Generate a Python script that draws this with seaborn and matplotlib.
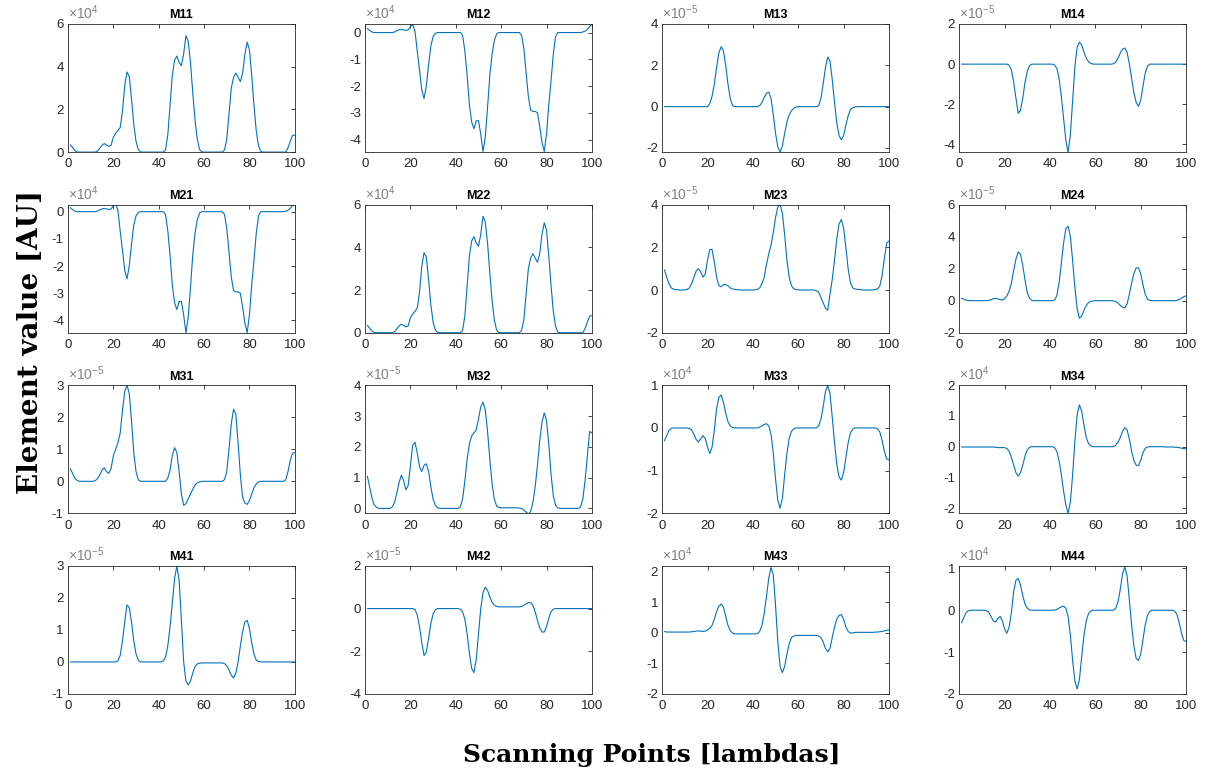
import numpy as np
import matplotlib
matplotlib.use("Agg")
import matplotlib.pyplot as plt
from matplotlib.ticker import FuncFormatter
import seaborn as sns

# Scanning positions (1..100)
scan = np.arange(1, 101)

# Mueller matrix elements, in units of 10**exp (exp given per panel below)
M11 = [0.34, 0.22, 0.08, 0.01, 0, 0, 0, 0, 0, 0,
       0, 0, 0.05, 0.18, 0.32, 0.4, 0.33, 0.27, 0.32, 0.7,
       0.88, 1.0, 1.15, 1.9, 3.1, 3.75, 3.55, 2.5, 1.3, 0.5,
       0.12, 0.01, 0, 0, 0, 0, 0, 0, 0, 0,
       0, 0, 0.1, 0.8, 2.2, 3.6, 4.3, 4.5, 4.2, 4.05,
       4.6, 5.45, 5.2, 4.2, 2.8, 1.5, 0.6, 0.12, 0.01, 0,
       0, 0, 0, 0, 0, 0, 0, 0, 0.1, 0.6,
       1.8, 3.0, 3.5, 3.7, 3.5, 3.3, 3.7, 4.6, 5.15, 4.8,
       3.6, 2.2, 1.0, 0.3, 0.03, 0, 0, 0, 0, 0,
       0, 0, 0, 0, 0, 0, 0.2, 0.5, 0.78, 0.8]

M12 = [0.15, 0.08, 0.02, 0, 0, 0, 0, 0, 0, 0,
       0, 0, 0.02, 0.07, 0.1, 0.12, 0.1, 0.08, 0.1, 0.22,
       0.3, 0.05, -0.7, -1.4, -2.15, -2.47, -2.0, -1.2, -0.5, -0.15,
       -0.03, 0, 0, 0, 0, 0, 0, 0, 0, 0,
       0, 0, -0.1, -0.7, -1.6, -2.7, -3.35, -3.6, -3.3, -3.3,
       -3.8, -4.45, -3.9, -2.8, -1.6, -0.8, -0.3, -0.05, 0, 0,
       0, 0, 0, 0, 0, 0, 0, 0, -0.1, -0.6,
       -1.5, -2.4, -2.9, -2.95, -2.95, -3.0, -3.5, -4.1, -4.45, -3.8,
       -2.7, -1.8, -0.8, -0.15, 0, 0, 0, 0, 0, 0,
       0, 0, 0, 0, 0, 0.02, 0.05, 0.12, 0.22, 0.3]

M13 = [0, 0, 0, 0, 0, 0, 0, 0, 0, 0,
       0, 0, 0, 0, 0, 0, 0, 0, 0, 0,
       0.15, 0.5, 1.1, 1.9, 2.6, 2.9, 2.7, 2.0, 1.1, 0.4,
       0.06, 0, 0, 0, 0, 0, 0, 0, 0, 0,
       0, 0, 0.05, 0.2, 0.45, 0.65, 0.7, 0.4, -0.4, -1.3,
       -1.95, -2.2, -1.9, -1.3, -0.75, -0.4, -0.2, -0.08, -0.02, 0,
       0, 0, 0, 0, 0, 0, 0, 0, 0.05, 0.4,
       1.1, 1.9, 2.4, 2.2, 1.3, 0.2, -0.8, -1.4, -1.6, -1.4,
       -0.9, -0.45, -0.15, -0.05, -0.02, 0, 0, 0, 0, 0,
       0, 0, 0, 0, 0, 0, 0, 0, 0, 0]

M14 = [0, 0, 0, 0, 0, 0, 0, 0, 0, 0,
       0, 0, 0, 0, 0, 0, 0, 0, 0, 0,
       0, -0.05, -0.3, -0.9, -1.7, -2.45, -2.3, -1.7, -0.9, -0.35,
       -0.08, 0, 0, 0, 0, 0, 0, 0, 0, 0,
       0, -0.05, -0.2, -0.7, -1.6, -2.7, -3.8, -4.4, -3.5, -1.8,
       -0.1, 0.85, 1.1, 0.95, 0.6, 0.3, 0.12, 0.04, 0, 0,
       0, 0, 0, 0, 0, 0, 0, 0.02, 0.1, 0.3,
       0.55, 0.75, 0.8, 0.6, 0.0, -0.7, -1.4, -1.9, -2.1, -1.8,
       -1.1, -0.45, -0.1, 0, 0, 0, 0, 0, 0, 0,
       0, 0, 0, 0, 0, 0, 0, 0, 0, 0]

M21 = list(M12)
M22 = list(M11)

M23 = [0.95, 0.6, 0.3, 0.1, 0.04, 0.02, 0.01, 0, 0, 0.01,
       0.03, 0.1, 0.3, 0.6, 0.9, 1.0, 0.85, 0.6, 0.75, 1.4,
       1.9, 1.9, 1.3, 0.6, 0.2, 0.15, 0.25, 0.25, 0.2, 0.1,
       0.05, 0.03, 0.02, 0.01, 0, 0, 0, 0, 0, 0,
       0.01, 0.03, 0.1, 0.3, 0.6, 1.2, 1.7, 2.1, 2.7, 3.4,
       3.9, 4.0, 3.6, 2.6, 1.4, 0.6, 0.2, 0.06, 0.02, 0.01,
       0, 0, 0, 0, 0, 0, 0, -0.03, -0.1, -0.35,
       -0.6, -0.85, -0.95, -0.2, 0.5, 1.4, 2.4, 3.1, 3.3, 2.9,
       2.0, 1.0, 0.35, 0.1, 0.05, 0.03, 0.02, 0.01, 0, 0,
       0, 0, 0.01, 0.03, 0.05, 0.2, 0.7, 1.5, 2.2, 2.3]

M24 = [0.15, 0.1, 0.04, 0.01, 0, 0, 0, 0, 0, 0,
       0, 0, 0.02, 0.06, 0.12, 0.15, 0.12, 0.06, 0.05, 0.12,
       0.3, 0.6, 1.1, 1.9, 2.6, 3.05, 2.9, 2.2, 1.3, 0.5,
       0.15, 0.03, 0, 0, 0, 0, 0, 0, 0, 0,
       0, 0.05, 0.3, 1.1, 2.3, 3.6, 4.5, 4.65, 4.0, 2.5,
       0.8, -0.5, -1.1, -0.95, -0.6, -0.3, -0.12, -0.05, -0.02, 0,
       0, 0, 0, 0, 0, 0, 0, -0.02, -0.05, -0.15,
       -0.3, -0.4, -0.45, -0.2, 0.4, 1.1, 1.7, 2.05, 2.05, 1.7,
       1.0, 0.4, 0.1, 0.02, 0, 0, 0, 0, 0, 0,
       0, 0, 0, 0, 0, 0.02, 0.08, 0.15, 0.25, 0.3]

M31 = [0.4, 0.25, 0.1, 0.03, 0, 0, 0, 0, 0, 0,
       0, 0.02, 0.08, 0.2, 0.35, 0.42, 0.3, 0.25, 0.4, 0.8,
       1.0, 1.2, 1.5, 2.2, 2.8, 3.0, 2.75, 1.9, 0.9, 0.3,
       0.05, 0, 0, 0, 0, 0, 0, 0, 0, 0,
       0, 0, 0, 0.1, 0.35, 0.8, 1.05, 0.9, 0.3, -0.4,
       -0.75, -0.7, -0.55, -0.4, -0.25, -0.12, -0.05, -0.02, 0, 0,
       0, 0, 0, 0, 0, 0, 0, 0, 0.05, 0.3,
       1.0, 1.8, 2.25, 2.1, 1.2, 0.2, -0.5, -0.68, -0.72, -0.6,
       -0.4, -0.2, -0.08, -0.02, 0, 0, 0, 0, 0, 0,
       0, 0, 0, 0, 0, 0.05, 0.3, 0.65, 0.88, 0.9]

M32 = [1.05, 0.7, 0.35, 0.12, 0.04, 0, 0, 0, 0, 0,
       0, 0.05, 0.2, 0.5, 0.85, 1.08, 0.9, 0.6, 0.75, 1.4,
       2.05, 2.15, 1.8, 1.35, 1.2, 1.4, 1.45, 1.2, 0.7, 0.3,
       0.1, 0.02, 0, 0, 0, 0, 0, 0, 0, 0,
       0, 0.05, 0.3, 0.9, 1.6, 2.1, 2.35, 2.45, 2.55, 2.9,
       3.3, 3.45, 3.2, 2.5, 1.6, 0.8, 0.3, 0.08, 0.03, 0.02,
       0.02, 0.02, 0.02, 0.02, 0.02, 0.02, 0.02, 0.01, 0, -0.05,
       -0.12, -0.18, -0.1, 0.2, 0.7, 1.4, 2.2, 2.8, 3.1, 2.85,
       2.1, 1.1, 0.4, 0.1, 0.02, 0, 0, 0, 0, 0,
       0, 0, 0, 0, 0.05, 0.3, 0.9, 1.7, 2.5, 2.45]

M33 = [-0.3, -0.18, -0.06, -0.01, 0, 0, 0, 0, 0, 0,
       0, -0.01, -0.05, -0.15, -0.27, -0.33, -0.25, -0.18, -0.25, -0.45,
       -0.6, -0.45, -0.05, 0.45, 0.72, 0.77, 0.6, 0.35, 0.15, 0.05,
       0.01, 0, 0, 0, 0, 0, 0, 0, 0, 0,
       0, 0, 0.02, 0.05, 0.08, 0.1, 0.05, -0.15, -0.6, -1.2,
       -1.7, -1.88, -1.65, -1.1, -0.6, -0.25, -0.08, -0.02, 0, 0,
       0, 0, 0, 0, 0, 0, 0, 0, 0.05, 0.2,
       0.5, 0.85, 1.0, 0.8, 0.25, -0.35, -0.85, -1.15, -1.22, -1.05,
       -0.7, -0.35, -0.12, -0.03, 0, 0, 0, 0, 0, 0,
       0, 0, 0, 0, -0.02, -0.1, -0.3, -0.55, -0.72, -0.75]

M34 = [-0.01, -0.01, -0.01, -0.01, -0.01, -0.01, -0.01, -0.01, -0.01, -0.01,
       -0.01, -0.01, -0.01, -0.01, -0.01, -0.02, -0.03, -0.03, -0.03, -0.03,
       -0.06, -0.15, -0.35, -0.6, -0.85, -0.96, -0.85, -0.6, -0.3, -0.1,
       -0.02, 0, 0, 0, 0, 0, 0, 0, 0, 0,
       0, -0.03, -0.15, -0.45, -0.9, -1.45, -1.9, -2.17, -1.8, -0.9,
       0.2, 1.05, 1.36, 1.15, 0.7, 0.3, 0.1, 0.03, 0, 0,
       0, 0, 0, 0, 0, 0, 0, 0, 0.05, 0.15,
       0.3, 0.5, 0.62, 0.55, 0.25, -0.15, -0.45, -0.6, -0.62, -0.45,
       -0.2, -0.05, -0.01, 0, 0, 0, 0, 0, 0, 0,
       -0.01, -0.01, -0.01, -0.01, -0.02, -0.02, -0.03, -0.05, -0.07, -0.06]

M41 = [0, 0, 0, 0, 0, 0, 0, 0, 0, 0,
       0, 0, 0, 0, 0, 0, 0, 0, 0, 0,
       0, 0.03, 0.2, 0.65, 1.25, 1.78, 1.7, 1.25, 0.65, 0.25,
       0.05, 0, 0, 0, 0, 0, 0, 0, 0, 0,
       0, 0.03, 0.15, 0.5, 1.1, 1.85, 2.6, 3.0, 2.55, 1.3,
       0.0, -0.6, -0.72, -0.6, -0.35, -0.15, -0.06, -0.04, -0.03, -0.03,
       -0.03, -0.03, -0.03, -0.03, -0.03, -0.03, -0.03, -0.03, -0.05, -0.12,
       -0.25, -0.42, -0.5, -0.35, 0.0, 0.5, 0.95, 1.25, 1.3, 1.05,
       0.6, 0.25, 0.06, 0.01, 0, 0, 0, 0, 0, 0,
       0, 0, 0, 0, 0, 0, 0, 0, 0, 0]

M42 = [0, 0, 0, 0, 0, 0, 0, 0, 0, 0,
       0, 0, 0, 0, 0, 0, 0, 0, 0, 0,
       0, -0.05, -0.3, -0.85, -1.6, -2.2, -2.05, -1.4, -0.7, -0.25,
       -0.05, 0, 0, 0, 0, 0, 0, 0, 0, 0,
       0, -0.03, -0.15, -0.5, -1.2, -2.1, -2.8, -3.0, -2.4, -1.2,
       0.0, 0.75, 1.0, 0.85, 0.55, 0.3, 0.15, 0.1, 0.08, 0.08,
       0.08, 0.08, 0.08, 0.08, 0.08, 0.08, 0.08, 0.08, 0.1, 0.15,
       0.22, 0.28, 0.28, 0.15, -0.15, -0.55, -0.9, -1.1, -1.1, -0.85,
       -0.45, -0.15, -0.03, 0, 0, 0, 0, 0, 0, 0,
       0, 0, 0, 0, 0, 0, 0, 0, 0, 0]

M43 = [0.05, 0.03, 0.03, 0.03, 0.03, 0.03, 0.03, 0.03, 0.03, 0.03,
       0.03, 0.03, 0.04, 0.05, 0.06, 0.07, 0.06, 0.05, 0.06, 0.1,
       0.15, 0.25, 0.45, 0.7, 0.88, 0.95, 0.85, 0.55, 0.25, 0.08,
       0.0, -0.03, -0.03, -0.03, -0.03, -0.03, -0.03, -0.03, -0.03, -0.03,
       -0.03, -0.02, 0.05, 0.25, 0.65, 1.2, 1.8, 2.15, 1.9, 0.9,
       -0.3, -1.1, -1.3, -1.1, -0.7, -0.35, -0.15, -0.1, -0.08, -0.08,
       -0.08, -0.08, -0.08, -0.08, -0.08, -0.08, -0.08, -0.08, -0.1, -0.15,
       -0.3, -0.5, -0.62, -0.5, -0.15, 0.2, 0.45, 0.58, 0.6, 0.45,
       0.2, 0.05, 0.0, 0.0, 0.02, 0.02, 0.02, 0.02, 0.02, 0.02,
       0.02, 0.02, 0.02, 0.03, 0.03, 0.04, 0.05, 0.07, 0.09, 0.1]

M44 = [-0.3, -0.18, -0.06, -0.01, 0, 0, 0, 0, 0, 0,
       0, -0.01, -0.05, -0.15, -0.25, -0.28, -0.2, -0.15, -0.25, -0.45,
       -0.55, -0.4, -0.05, 0.45, 0.72, 0.76, 0.6, 0.35, 0.15, 0.05,
       0.01, 0, 0, 0, 0, 0, 0, 0, 0, 0,
       0, 0, 0.02, 0.05, 0.08, 0.1, 0.05, -0.15, -0.6, -1.2,
       -1.7, -1.88, -1.65, -1.1, -0.6, -0.25, -0.08, -0.02, 0, 0,
       0, 0, 0, 0, 0, 0, 0, 0, 0.05, 0.2,
       0.5, 0.87, 1.04, 0.82, 0.25, -0.35, -0.85, -1.15, -1.2, -1.05,
       -0.7, -0.35, -0.12, -0.03, 0, 0, 0, 0, 0, 0,
       0, 0, 0, 0, -0.02, -0.1, -0.3, -0.55, -0.72, -0.75]

# Panel layout: (title, values, power of ten, y-limits, y-ticks) in scaled units
panels = [
    ("M11", M11, 4, (0, 6), [0, 2, 4, 6]),
    ("M12", M12, 4, (-4.47, 0.32), [-4, -3, -2, -1, 0]),
    ("M13", M13, -5, (-2.2, 4), [-2, 0, 2, 4]),
    ("M14", M14, -5, (-4.38, 2), [-4, -2, 0, 2]),
    ("M21", M21, 4, (-4.45, 0.26), [-4, -3, -2, -1, 0]),
    ("M22", M22, 4, (0, 6), [0, 2, 4, 6]),
    ("M23", M23, -5, (-2, 4), [-2, 0, 2, 4]),
    ("M24", M24, -5, (-2, 6), [-2, 0, 2, 4, 6]),
    ("M31", M31, -5, (-1, 3), [-1, 0, 1, 2, 3]),
    ("M32", M32, -5, (-0.16, 4), [0, 1, 2, 3, 4]),
    ("M33", M33, 4, (-2, 1), [-2, -1, 0, 1]),
    ("M34", M34, 4, (-2.17, 2), [-2, -1, 0, 1, 2]),
    ("M41", M41, -5, (-1, 3), [-1, 0, 1, 2, 3]),
    ("M42", M42, -5, (-4, 2), [-4, -2, 0, 2]),
    ("M43", M43, 4, (-2, 2.2), [-2, -1, 0, 1, 2]),
    ("M44", M44, 4, (-2, 1.06), [-2, -1, 0, 1]),
]

x_ticks = [0, 20, 40, 60, 80, 100]

sns.set_theme(style="white")
plt.rcParams["font.family"] = ["Liberation Sans", "DejaVu Sans"]
plt.rcParams["axes.unicode_minus"] = False
plt.rcParams["mathtext.default"] = "regular"

axis_gray = "#262626"
line_blue = "#0072BD"

fig, axes = plt.subplots(4, 4, figsize=(12.1, 7.71), dpi=100)
fig.subplots_adjust(left=0.0562, right=0.9802, top=0.9689, bottom=0.0999,
                    wspace=0.31, hspace=0.41)


def scaled_formatter(scale):
    return FuncFormatter(lambda v, pos: f"{round(v / scale, 6):g}")


for ax, (name, vals, exp, ylim, yt) in zip(axes.flat, panels):
    scale = 10.0 ** exp
    y = np.asarray(vals, dtype=float) * scale
    sns.lineplot(x=scan, y=y, ax=ax, color=line_blue, linewidth=0.8, sort=False)
    ax.set_xlim(0, 100)
    ax.set_ylim(ylim[0] * scale, ylim[1] * scale)
    ax.set_xticks(x_ticks)
    ax.set_yticks(np.asarray(yt, dtype=float) * scale)
    ax.yaxis.set_major_formatter(scaled_formatter(scale))
    # exponent marker above the top-left corner
    ax.text(0.0, 1.015, r"$\times10^{%d}$" % exp, transform=ax.transAxes,
            ha="left", va="bottom", fontsize=10, color="#808080")
    ax.set_xlabel("")
    ax.set_ylabel("")
    ax.set_title(name, fontsize=9, fontweight="bold", color="black", pad=4)
    ax.tick_params(axis="both", direction="in", length=3, width=0.6,
                   top=True, right=True, colors=axis_gray, labelsize=9.5,
                   labelcolor=axis_gray)
    ax.tick_params(axis="x", pad=4.5)
    ax.tick_params(axis="y", pad=3)
    for sp in ax.spines.values():
        sp.set_visible(True)
        sp.set_color(axis_gray)
        sp.set_linewidth(0.6)

fig.text(0.0248, 0.556, "Element value [AU]", rotation=90, ha="center",
         va="center", fontsize=20, fontweight="bold", family="DejaVu Serif",
         color="black")
fig.text(0.539, 0.0208, "Scanning Points [lambdas]", ha="center", va="center",
         fontsize=18, fontweight="bold", family="DejaVu Serif", color="black")

fig.savefig("out.png", dpi=100)
